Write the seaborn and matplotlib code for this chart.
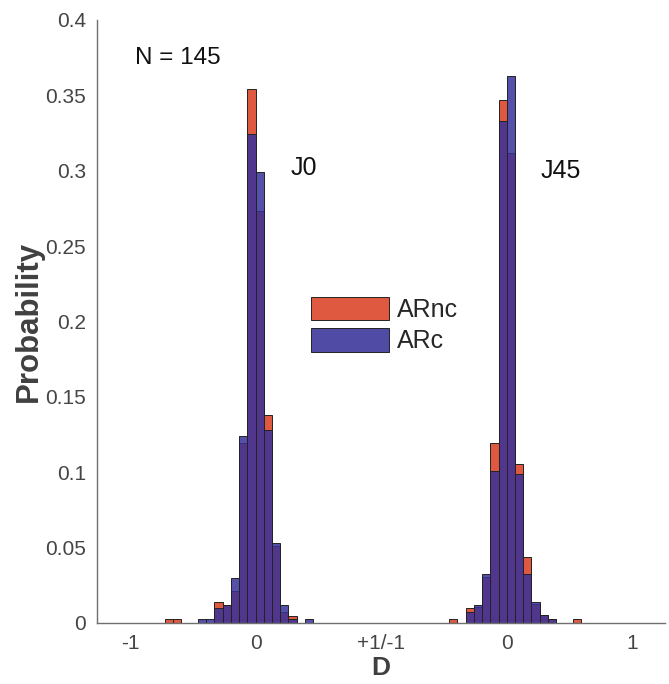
import numpy as np
import pandas as pd
import matplotlib
matplotlib.use("Agg")
import matplotlib.pyplot as plt
from matplotlib.patches import Patch
import seaborn as sns

# Histogram bins: bin k spans [k*w, (k+1)*w] around each group's centre
BIN_WIDTH = 0.0655
bin_index = np.arange(-11, 10)

# Probabilities per bin (J0 group centred at 0, J45 group centred at 2 on the shared axis)
j0_arnc = [0.0023, 0.0023, 0, 0, 0, 0, 0.014, 0.0117, 0.021, 0.119, 0.354,
           0.273, 0.138, 0.051, 0.0069, 0.0046, 0, 0, 0, 0, 0]
j0_arc = [0, 0, 0, 0, 0.0022, 0.0022, 0.0095, 0.0117, 0.030, 0.124, 0.324,
          0.299, 0.128, 0.053, 0.0117, 0.0024, 0, 0.0022, 0, 0, 0]
j45_arnc = [0, 0, 0, 0, 0.0024, 0, 0.0095, 0.0106, 0.0305, 0.119, 0.347,
            0.312, 0.1056, 0.0438, 0.0124, 0.005, 0.0024, 0, 0, 0.0024, 0]
j45_arc = [0, 0, 0, 0, 0, 0, 0.0069, 0.0117, 0.032, 0.101, 0.333,
           0.363, 0.099, 0.032, 0.0139, 0.005, 0.0024, 0, 0, 0, 0]

group_centres = {"J0": 0.0, "J45": 2.0}
tick_pos = [-1, 0, 1, 2, 3]
tick_labels = ["-1", "0", "+1/-1", "0", "1"]
series_names = ["ARnc", "ARc"]

RED = "#DE5940"
BLUE = (55 / 255, 49 / 255, 155 / 255)

sns.set_style("white")
plt.rcParams["font.family"] = ["Liberation Sans", "DejaVu Sans"]

fig = plt.figure(figsize=(6.69, 6.84), dpi=100)
ax = fig.add_axes([0.1454, 0.0896, 0.8486, 0.8812])

groups = [("J0", j0_arnc, j0_arc), ("J45", j45_arnc, j45_arc)]
for name, arnc, arc in groups:
    c = group_centres[name]
    centres = c + (bin_index + 0.5) * BIN_WIDTH
    edges = [c + k * BIN_WIDTH for k in range(bin_index[0], bin_index[-1] + 2)]
    df = pd.DataFrame({"D": centres, "ARnc": arnc, "ARc": arc})
    sns.histplot(data=df, x="D", weights="ARnc", bins=edges, stat="count",
                 color=RED, alpha=1.0, edgecolor="#222222", linewidth=0.7, ax=ax)
    sns.histplot(data=df, x="D", weights="ARc", bins=edges, stat="count",
                 color=BLUE, alpha=0.85, edgecolor="#222222", linewidth=0.7, ax=ax)

# hide empty bins so no edge lines sit on the baseline
for p in ax.patches:
    if p.get_height() <= 0:
        p.set_visible(False)

ax.set_xlim(-1.26, 3.26)
ax.set_ylim(0, 0.4)
ax.set_xticks(tick_pos)
ax.set_xticklabels(tick_labels)
ax.set_yticks(np.arange(0, 0.401, 0.05))
ax.set_yticklabels(["0", "0.05", "0.1", "0.15", "0.2", "0.25", "0.3", "0.35", "0.4"])

for s in ["top", "right"]:
    ax.spines[s].set_visible(False)
for s in ["left", "bottom"]:
    ax.spines[s].set_color("#707070")
    ax.spines[s].set_linewidth(1.0)
ax.tick_params(axis="both", direction="in", length=6, width=1.0, color="#707070",
               labelsize=15, labelcolor="#454545", pad=8)

ax.set_xlabel("D", fontsize=19, fontweight="bold", color="#404040")
ax.xaxis.set_label_coords(0.5, -0.056)
ax.set_ylabel("Probability", fontsize=22.5, fontweight="bold", color="#404040")
ax.yaxis.set_label_coords(-0.094, 0.5)

ax.text(-0.96, 0.375, "N = 145", fontsize=17.5, va="center", ha="left", color="#111111")
ax.text(0.28, 0.302, "J0", fontsize=18, va="center", ha="left", color="#111111")
ax.text(2.27, 0.300, "J45", fontsize=18, va="center", ha="left", color="#111111")

handles = [Patch(facecolor=RED, edgecolor="#222222", linewidth=0.7),
           Patch(facecolor=(80 / 255, 76 / 255, 166 / 255), edgecolor="#222222", linewidth=0.7)]
ax.legend(handles, series_names, loc="upper left", bbox_to_anchor=(311 / 669, 1 - 297 / 684),
          bbox_transform=fig.transFigure, frameon=False, fontsize=18, borderpad=0,
          borderaxespad=0, handlelength=3.1, handleheight=1.05, handletextpad=0.35,
          labelspacing=0.25)

fig.savefig("out.png", dpi=100)
